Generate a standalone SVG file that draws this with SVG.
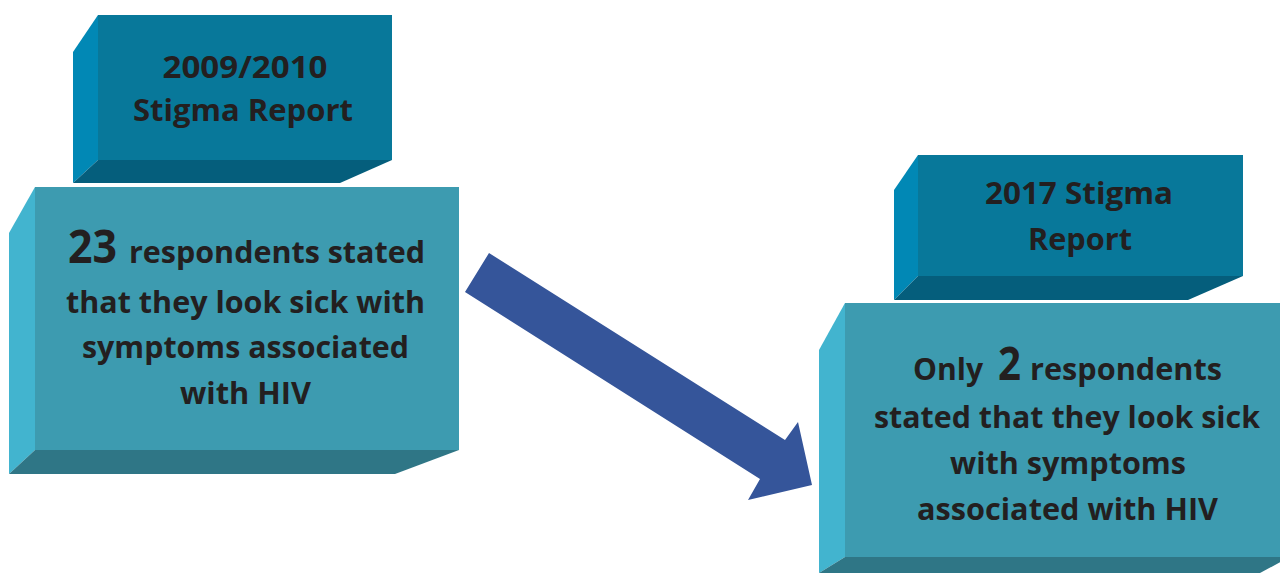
<svg xmlns="http://www.w3.org/2000/svg" width="1280" height="573" viewBox="0 0 1280 573">
<style>
.hf{fill:#08789a}.hl{fill:#0188b5}.hb{fill:#055e7c}
.mf{fill:#3d9bb0}.ml{fill:#42b4cf}.mb{fill:#2f7686}
text{font-family:"Open Sans","Liberation Sans",sans-serif;font-weight:bold;fill:#231f20}
.t{font-size:30px}.big{font-size:46px}
</style>
<rect width="1280" height="573" fill="#ffffff"/>
<g id="header-2009">
<polygon class="hl" points="73,52 98,15 98,160 73,183"/>
<polygon class="hb" points="98,160 392,160 340,183 73,183"/>
<rect class="hf" x="98" y="15" width="294" height="145"/>
<text class="t" x="245" y="78" text-anchor="middle" textLength="165" lengthAdjust="spacingAndGlyphs">2009/2010</text>
<text class="t" x="243" y="121" text-anchor="middle" textLength="220" lengthAdjust="spacingAndGlyphs">Stigma Report</text>
</g>
<g id="box-2009">
<polygon class="ml" points="9,233 35,187 35,450 9,474"/>
<polygon class="mb" points="35,450 459,450 395,474 9,474"/>
<rect class="mf" x="35" y="187" width="424" height="263"/>
<text class="big" x="68" y="263" textLength="49" lengthAdjust="spacingAndGlyphs">23</text>
<text class="t" x="129" y="263" textLength="296" lengthAdjust="spacingAndGlyphs">respondents stated</text>
<text class="t" x="66" y="313" textLength="359" lengthAdjust="spacingAndGlyphs">that they look sick with</text>
<text class="t" x="82" y="358" textLength="327" lengthAdjust="spacingAndGlyphs">symptoms associated</text>
<text class="t" x="180" y="404" textLength="131" lengthAdjust="spacingAndGlyphs">with HIV</text>
</g>
<g id="header-2017">
<polygon class="hl" points="894,190 918,155 918,276 894,300"/>
<polygon class="hb" points="918,276 1243,276 1188,300 894,300"/>
<rect class="hf" x="918" y="155" width="325" height="121"/>
<text class="t" x="985" y="204" textLength="188" lengthAdjust="spacingAndGlyphs">2017 Stigma</text>
<text class="t" x="1028" y="250" textLength="104" lengthAdjust="spacingAndGlyphs">Report</text>
</g>
<g id="box-2017">
<polygon class="ml" points="819,350 845,303 845,557 819,573"/>
<polygon class="mb" points="845,557 1290,557 1260,573 819,573"/>
<rect class="mf" x="845" y="303" width="445" height="254"/>
<text class="t" x="913" y="380" textLength="70" lengthAdjust="spacingAndGlyphs">Only</text>
<text class="big" x="998" y="380" textLength="23" lengthAdjust="spacingAndGlyphs">2</text>
<text class="t" x="1030" y="380" textLength="192" lengthAdjust="spacingAndGlyphs">respondents</text>
<text class="t" x="874" y="428" textLength="386" lengthAdjust="spacingAndGlyphs">stated that they look sick</text>
<text class="t" x="950" y="474" textLength="236" lengthAdjust="spacingAndGlyphs">with symptoms</text>
<text class="t" x="917" y="520" textLength="301" lengthAdjust="spacingAndGlyphs">associated with HIV</text>
</g>
<g id="connectors">
<polygon fill="#35559a" points="489,253 785,440 798,422 812,485 748,500 760,479 465,292"/>
</g>
</svg>
